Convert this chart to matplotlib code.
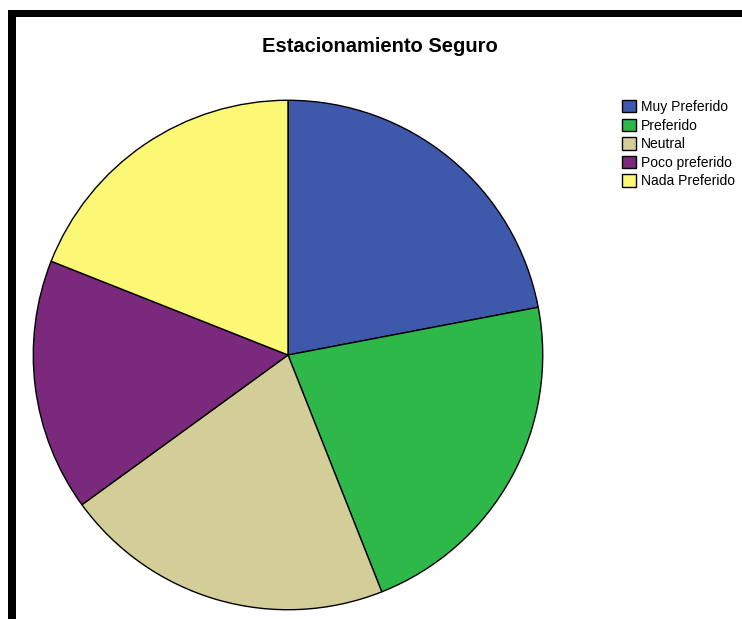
import matplotlib.pyplot as plt
from matplotlib.patches import Rectangle

W, H = 742, 619

categories = ['Muy Preferido', 'Preferido', 'Neutral', 'Poco preferido', 'Nada Preferido']
values = [22, 22, 21, 16, 19]
colors = ['#3E58AC', '#2EB84A', '#D3CE97', '#7A297C', '#FBF876']

plt.rcParams['font.family'] = ['Liberation Sans', 'DejaVu Sans']

fig = plt.figure(figsize=(W / 100, H / 100), dpi=100)

# frame: thick black on left and top
fig.patches.append(Rectangle((8 / W, 0), 8 / W, (H - 10) / H, transform=fig.transFigure,
                             facecolor='black', edgecolor='none'))
fig.patches.append(Rectangle((8 / W, (H - 17) / H), (W - 8) / W, 7 / H, transform=fig.transFigure,
                             facecolor='black', edgecolor='none'))

cx, cy, r = 288, 355, 256
ax = fig.add_axes([(cx - r) / W, (H - cy - r) / H, 2 * r / W, 2 * r / H])
wedges, _ = ax.pie(values, colors=colors, startangle=90, counterclock=False,
                   wedgeprops=dict(edgecolor='black', linewidth=1.0))
ax.set_xlim(-1.005, 1.005)
ax.set_ylim(-1.005, 1.005)
ax.set_aspect('equal')
ax.axis('off')

fig.text(380 / W, 1 - 47 / H, 'Estacionamiento Seguro', ha='center', va='center',
         fontsize=14.5, fontweight='bold')

fig.legend(wedges, categories, loc='upper left', bbox_to_anchor=(622 / W, 1 - 100 / H),
           frameon=False, fontsize=10, handlelength=1.0, handleheight=1.0,
           handletextpad=0.35, labelspacing=0.33, borderaxespad=0, borderpad=0)

fig.savefig('out.png', dpi=100)
